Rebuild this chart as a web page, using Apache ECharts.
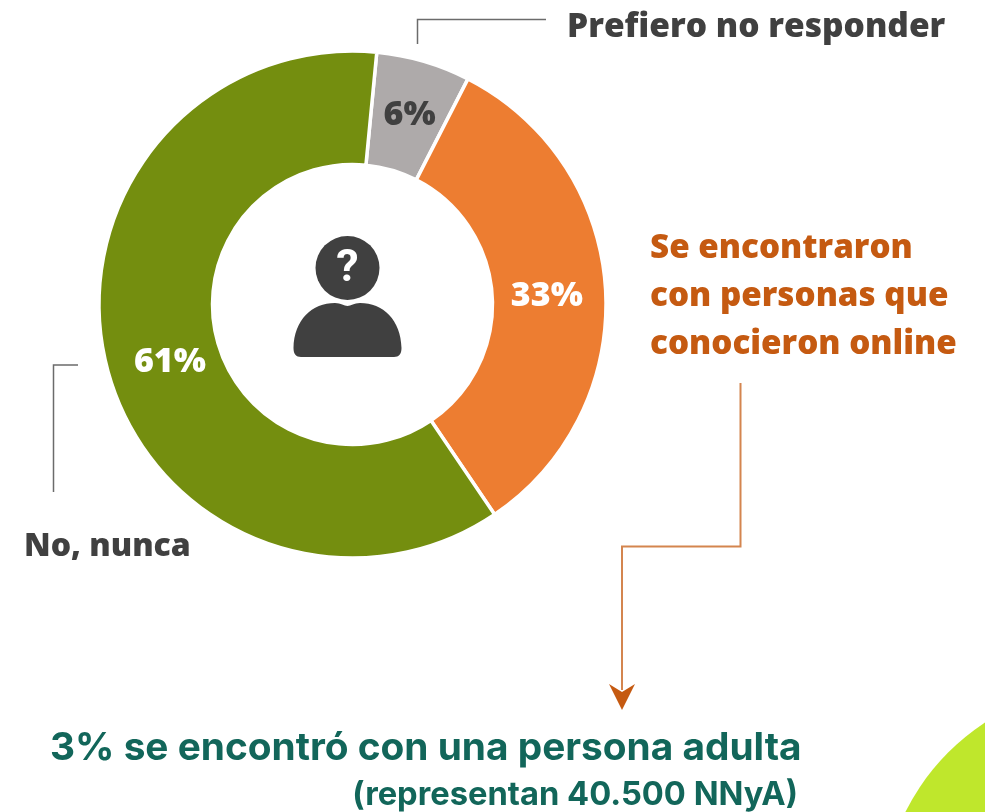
<!DOCTYPE html>
<html><head><meta charset="utf-8">
<style>html,body{margin:0;padding:0;background:#fff}#c{width:985px;height:812px}</style>
<script src="https://cdn.jsdelivr.net/npm/echarts@6/dist/echarts.min.js"></script></head>
<body><div id="c"></div>
<script>
const categories = ['Prefiero no responder', 'Se encontraron con personas que conocieron online', 'No, nunca'];
const values = [6, 33, 61];
const sliceColors = ['#aeaaaa', '#ed7d31', '#748e0f'];
const labelColors = ['#404040', '#ffffff', '#ffffff'];
const labelNudges = [[1,3],[-5,4],[11,8]];
const chart = echarts.init(document.getElementById('c'), null, {renderer:'canvas'});
const F1 = '"Open Sans"', F2 = 'Inter';
const line = (pts, color, w) => ({type:'polyline', silent:true, shape:{points:pts}, style:{stroke:color, lineWidth:w||1.5, fill:null}});
const txt = (x,y,text,size,color,font,extra) => ({type:'text', x, y, silent:true, style:Object.assign({text, fontSize:size, fontWeight:800, fontFamily:font, fill:color, textVerticalAlign:'middle'}, extra||{})});
chart.setOption({
  animation:false,
  backgroundColor:'#ffffff',
  series:[{
    type:'pie', center:[352.5,304.5], radius:[140,253.5], startAngle:84.5, clockwise:true,
    itemStyle:{borderColor:'#fff', borderWidth:3.5},
    labelLine:{show:false},
    label:{show:true, position:'inside', fontFamily:F1, fontWeight:800, fontSize:34, formatter:'{d}%'},
    data:categories.map((name,i)=>({name, value:values[i], itemStyle:{color:sliceColors[i]}, label:{color:labelColors[i], offset:labelNudges[i]}}))
  },{
    type:'custom', coordinateSystem:'none', silent:true, data:[0],
    renderItem:()=>({type:'path', shape:{pathData:'M293.5 348 C294 320 312 303 335 303 C341 303 344 306 347.5 306 C351 306 354 303 360 303 C383 303 401 320 401.5 348 C401.5 354 399 357 394 357 L301 357 C296 357 293.5 354 293.5 348 Z', x:293.5, y:303, width:108, height:54}, style:{fill:'#404040'}})
  }],
  graphic:[
    {type:'circle', silent:true, shape:{cx:1111,cy:915,r:230}, style:{fill:'#bfe72c'}},
    {type:'circle', silent:true, shape:{cx:347.5,cy:268,r:32}, style:{fill:'#404040'}},
    txt(347.5,270,'?',45,'#ffffff','Roboto',{textAlign:'center',fontWeight:700}),
    line([[417.5,44],[417.5,19.5],[546,19.5]],'#6b6b6b'),
    line([[78,365],[53.5,365],[53.5,492]],'#6b6b6b'),
    line([[740.5,383],[740.5,546.5],[622,546.5],[622,690]],'#d4854f',2),
    {type:'polygon', silent:true, shape:{points:[[609,684],[622,692],[635,684],[622,710]]}, style:{fill:'#c55a11'}},
    txt(567,27,'Prefiero no responder',33.5,'#404040',F1),
    txt(650,248.5,'Se encontraron',33.2,'#c55a11',F1),
    txt(650,297,'con personas que',33.2,'#c55a11',F1),
    txt(650,345,'conocieron online',33.2,'#c55a11',F1),
    txt(24,547,'No, nunca',32,'#404040',F1),
    txt(50,748,'3% se encontró con una persona adulta',38.8,'#12665a',F2,{fontWeight:700}),
    txt(798,795,'(representan 40.500 NNyA)',32.7,'#12665a',F2,{fontWeight:700,textAlign:'right'})
  ]
});
</script></body></html>
